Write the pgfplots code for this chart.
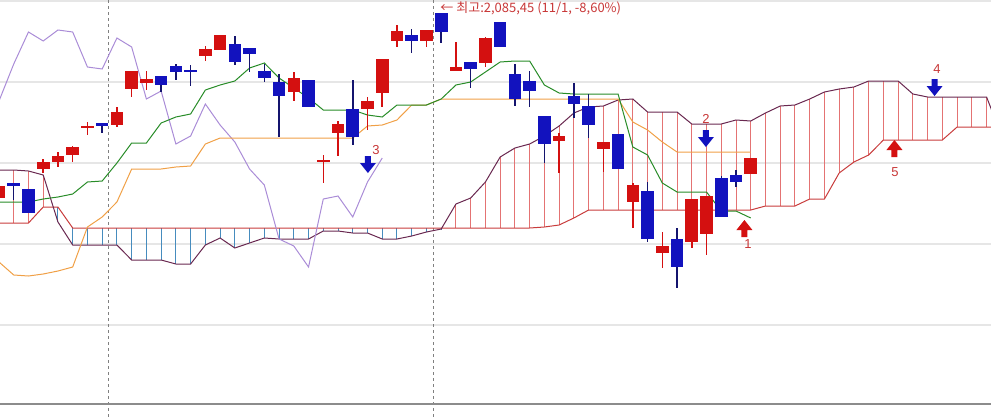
\documentclass[border=0pt]{standalone}
\usepackage{pgfplots}
\pgfplotsset{compat=1.18}
\usepackage{pgfplotstable}
\usepackage{fontspec}
\setmainfont{Liberation Sans}
\newfontfamily\kr{Noto Sans CJK KR}

\definecolor{candlered}{RGB}{212,16,16}
\definecolor{candleblue}{RGB}{18,18,190}
\definecolor{wickblue}{RGB}{20,20,110}
\definecolor{tenkan}{RGB}{40,140,40}
\definecolor{kijun}{RGB}{240,160,70}
\definecolor{chikou}{RGB}{170,140,215}
\definecolor{spanA}{RGB}{105,40,80}
\definecolor{spanB}{RGB}{200,60,60}
\definecolor{hatchred}{RGB}{228,115,115}
\definecolor{hatchblue}{RGB}{70,140,190}
\definecolor{lblred}{RGB}{200,55,55}
\definecolor{gridgray}{RGB}{230,230,230}

% x = bar index, y = height on the screen (0 at top)
\pgfplotstableread{
i bt bb wt wb
0 186 198 184 200
3 162 169 159 173
4 156 162 152 167
5 147 155 146 162
6 126 128 122 135
8 112 125 107 127
9 71 89 71 97
10 79 83 71 90
14 49 56 46 61
15 35 50 35 50
20 78 92 72 101
22 160 162 155 183
23 124 133 121 156
25 101 109 97 130
26 59 93 59 107
27 31 41 25 47
29 30 41 30 47
31 67 71 42 71
33 38 63 37 67
38 136 141 133 173
41 142 149 142 172
43 185 202 183 228
45 246 253 232 268
47 199 242 199 248
48 196 234 196 255
51 158 174 158 174
}\upbars

\pgfplotstableread{
i bt bb wt wb
1 183 186 183 200
2 189 213 189 213
7 123 126 123 133
11 76 85 76 92
12 66 72 64 80
13 70 72 65 86
16 44 62 36 65
17 48 54 48 72
18 71 78 64 82
19 82 96 74 137
21 80 107 80 107
24 109 137 80 145
28 35 41 29 53
30 13 32 13 43
32 62 69 62 88
34 22 47 22 47
35 74 99 64 106
36 81 91 71 107
37 116 144 116 163
39 96 104 83 118
40 106 125 94 138
42 134 169 134 169
44 191 239 182 242
46 239 267 228 288
49 178 217 176 217
50 175 182 170 187
}\downbars

% conversion line, base line
\pgfplotstableread{
i ten kij
0 202 262
1 202 275
2 202 276
3 199 274
4 197 271
5 194 267
6 182 227
7 181 217
8 163 202
9 143 169
10 143 169
11 123 169
12 117 167
13 114 166
14 90 144
15 85 138
16 81 138
17 68 138
18 63 138
19 78 138
20 88 138
21 98 138
22 110 138
23 110 138
24 110 138
25 115 126
26 117 125
27 105 120
28 105 105
29 105 105
30 99 99
31 85 99
32 82 99
33 72 99
34 62 99
35 61 99
36 61 99
37 85 99
38 93 99
39 94 99
40 94 99
41 94 99
42 94 99
43 147 122
44 155 130
45 183 142
46 192 152
47 192 152
48 192 152
49 211 152
50 211 152
51 218 152
}\midlines

% lagging span
\pgfplotstableread{
i lag
0 101
1 64
2 32
3 41
4 30
5 32
6 67
7 69
8 38
9 47
10 99
11 91
12 144
13 136
14 104
15 125
16 142
17 169
18 185
19 239
20 246
21 267
22 199
23 196
24 217
25 182
26 158
}\lagging

% leading spans (cloud)
\pgfplotstableread{
i P Q
0 170 223
1 170 223
2 171 223
3 175 207
4 222 207
5 245 228
6 245 228
7 245 228
8 245 228
9 260 228
10 260 228
11 260 228
12 264 228
13 264 228
14 245 228
15 238 228
16 248 228
17 243 228
18 238 228
19 239 228
20 239 228
21 239 228
22 231 228
23 231 228
24 233 228
25 233 228
26 239 228
27 239 228
28 236 228
29 232 228
30 229 228
31 204 228
32 198 228
33 182 228
34 157 228
35 148 228
36 144 228
37 136 227
38 126 225
39 113 218
40 107 210
41 106 210
42 100 210
43 99 210
44 112 210
45 112 210
46 112 210
47 124 210
48 124 210
49 124 210
50 120 210
51 121 210
52 113 206
53 106 206
54 105 206
55 99 199
56 92 199
57 89 173
58 87 162
59 81 155
60 81 140
61 81 140
62 94 140
63 97 140
64 97 140
65 97 127
66 97 127
67 97 127
68 135 127
}\cloud

\pgfdeclareplotmark{dnarrow}{%
  \pgfpathmoveto{\pgfpoint{0pt}{0pt}}
  \pgfpathlineto{\pgfpoint{4pt}{5pt}}
  \pgfpathlineto{\pgfpoint{1.5pt}{5pt}}
  \pgfpathlineto{\pgfpoint{1.5pt}{8.5pt}}
  \pgfpathlineto{\pgfpoint{-1.5pt}{8.5pt}}
  \pgfpathlineto{\pgfpoint{-1.5pt}{5pt}}
  \pgfpathlineto{\pgfpoint{-4pt}{5pt}}
  \pgfpathclose
  \pgfusepathqfill}
\pgfdeclareplotmark{uparrow}{%
  \pgfpathmoveto{\pgfpoint{0pt}{0pt}}
  \pgfpathlineto{\pgfpoint{4pt}{-5pt}}
  \pgfpathlineto{\pgfpoint{1.5pt}{-5pt}}
  \pgfpathlineto{\pgfpoint{1.5pt}{-8.5pt}}
  \pgfpathlineto{\pgfpoint{-1.5pt}{-8.5pt}}
  \pgfpathlineto{\pgfpoint{-1.5pt}{-5pt}}
  \pgfpathlineto{\pgfpoint{-4pt}{-5pt}}
  \pgfpathclose
  \pgfusepathqfill}

\begin{document}
\begin{tikzpicture}
\begin{axis}[
  scale only axis, width=495.5pt, height=209pt,
  xmin=0.0678, xmax=67.30, ymin=0, ymax=418, y dir=reverse,
  axis line style={draw=none}, major tick length=0pt,
  xtick=\empty, ytick={1,82,163,244,325}, yticklabels={},
  ymajorgrids, major grid style={draw=gridgray, line width=1pt},
  extra y ticks={404}, extra y tick labels={},
  extra y tick style={major grid style={draw=black!45, line width=0.6pt}},
  extra x ticks={7.4,29.45}, extra x tick labels={},
  extra x tick style={grid=major, major grid style={draw=black!50, line width=0.5pt, dash pattern=on 1.5pt off 1.5pt}},
  every axis plot/.append style={line width=0.5pt},
]
% cloud hatching
\addplot[draw=none, mark=none, forget plot, error bars/.cd, y dir=both, y explicit, error mark=none,
  error bar style={draw=hatchred, line width=0.5pt}]
  table[x=i, y expr={(\thisrow{P}+\thisrow{Q})/2}, y error expr={max(\thisrow{Q}-\thisrow{P},0)/2}] {\cloud};
\addplot[draw=none, mark=none, forget plot, error bars/.cd, y dir=both, y explicit, error mark=none,
  error bar style={draw=hatchblue, line width=0.5pt}]
  table[x=i, y expr={(\thisrow{P}+\thisrow{Q})/2}, y error expr={max(\thisrow{P}-\thisrow{Q},0)/2}] {\cloud};
\addplot[spanB, mark=none] table[x=i, y=Q] {\cloud};
\addplot[spanA, mark=none] table[x=i, y=P] {\cloud};
% lines
\addplot[chikou, mark=none] table[x=i, y=lag] {\lagging};
\addplot[kijun, mark=none] table[x=i, y=kij] {\midlines};
\addplot[tenkan, mark=none] table[x=i, y=ten] {\midlines};
% candles: wicks then bodies
\addplot[draw=none, mark=none, error bars/.cd, y dir=both, y explicit, error mark=none,
  error bar style={draw=candlered, line width=0.75pt}]
  table[x=i, y expr={(\thisrow{wt}+\thisrow{wb})/2}, y error expr={(\thisrow{wb}-\thisrow{wt})/2}] {\upbars};
\addplot[draw=none, mark=none, error bars/.cd, y dir=both, y explicit, error mark=none,
  error bar style={draw=wickblue, line width=0.75pt}]
  table[x=i, y expr={(\thisrow{wt}+\thisrow{wb})/2}, y error expr={(\thisrow{wb}-\thisrow{wt})/2}] {\downbars};
\addplot[draw=none, mark=none, error bars/.cd, y dir=both, y explicit, error mark=none,
  error bar style={draw=candlered, line width=6.3pt}]
  table[x=i, y expr={(\thisrow{bt}+\thisrow{bb})/2}, y error expr={(\thisrow{bb}-\thisrow{bt})/2}] {\upbars};
\addplot[draw=none, mark=none, error bars/.cd, y dir=both, y explicit, error mark=none,
  error bar style={draw=candleblue, line width=6.3pt}]
  table[x=i, y expr={(\thisrow{bt}+\thisrow{bb})/2}, y error expr={(\thisrow{bb}-\thisrow{bt})/2}] {\downbars};
% signal arrows (tip positions)
\addplot[only marks, mark=dnarrow, candleblue] coordinates {(25.03,173) (47.96,147) (63.47,96)};
\addplot[only marks, mark=uparrow, candlered] coordinates {(50.57,220) (60.75,140)};
% labels
\node[text=lblred, font=\fontsize{6.5}{7}\selectfont, inner sep=0pt] at (axis cs:25.58,150) {3};
\node[text=lblred, font=\fontsize{6.5}{7}\selectfont, inner sep=0pt] at (axis cs:47.97,119) {2};
\node[text=lblred, font=\fontsize{6.5}{7}\selectfont, inner sep=0pt] at (axis cs:50.81,244) {1};
\node[text=lblred, font=\fontsize{6.5}{7}\selectfont, inner sep=0pt] at (axis cs:63.64,69) {4};
\node[text=lblred, font=\fontsize{6.5}{7}\selectfont, inner sep=0pt] at (axis cs:60.79,172) {5};
\node[anchor=west, text=lblred, font=\kr\fontsize{6.5}{7.5}\selectfont, inner sep=0pt] at (axis cs:29.92,8) {← 최고:2,085,45 (11/1, -8,60\%)};
\end{axis}
\pgfresetboundingbox
\path[use as bounding box] (current axis.south west) rectangle (current axis.north east);
\end{tikzpicture}
\end{document}
